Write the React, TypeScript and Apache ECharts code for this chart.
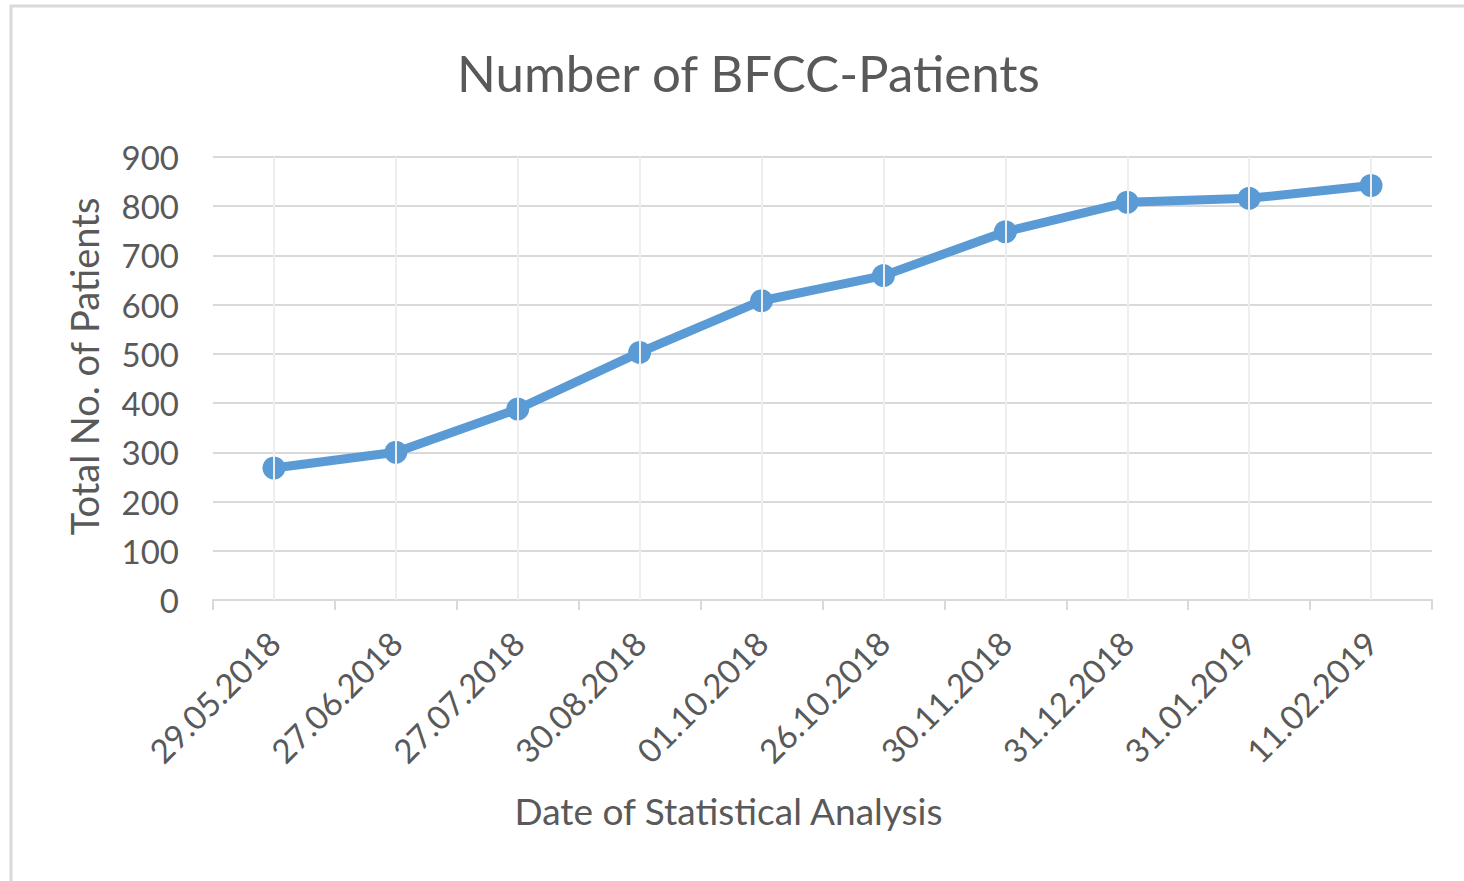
import React, { useEffect, useRef } from "react";
import * as echarts from "echarts";

const categories = [
  "29.05.2018",
  "27.06.2018",
  "27.07.2018",
  "30.08.2018",
  "01.10.2018",
  "26.10.2018",
  "30.11.2018",
  "31.12.2018",
  "31.01.2019",
  "11.02.2019",
];
const patients = [268, 300, 388, 503, 608, 659, 748, 808, 816, 842];
const yMin = 0;
const yMax = 900;
const yStep = 100;

const FONT = "Lato";
const TEXT = "#595959";

export default function App() {
  const ref = useRef<HTMLDivElement>(null);
  useEffect(() => {
    document.body.style.margin = "0";
    if (!ref.current) return;
    const chart = echarts.init(ref.current, undefined, { renderer: "svg" });
    chart.setOption({
      animation: false,
      backgroundColor: "#ffffff",
      textStyle: { fontFamily: FONT },
      title: {
        text: "Number of BFCC-Patients",
        left: 452,
        top: 42,
        textStyle: { fontFamily: FONT, fontSize: 51, fontWeight: "normal", color: TEXT },
      },
      graphic: [
        {
          type: "rect",
          shape: { x: 11, y: 6, width: 1600, height: 1000 },
          style: { fill: "none", stroke: "#d9d9d9", lineWidth: 3 },
          silent: true,
        },
      ],
      grid: { left: 213, right: 32, top: 157, bottom: 281, containLabel: false },
      xAxis: {
        type: "category",
        data: categories,
        boundaryGap: true,
        name: "Date of Statistical Analysis",
        nameLocation: "middle",
        nameGap: 192,
        nameTextStyle: { fontFamily: FONT, fontSize: 37, color: TEXT, padding: [0, 188, 0, 0] },
        axisLine: { show: true, lineStyle: { color: "#d9d9d9", width: 2 } },
        axisTick: { show: true, length: 10, lineStyle: { color: "#d9d9d9", width: 2 } },
        axisLabel: {
          rotate: 45,
          margin: 37,
          fontFamily: FONT,
          fontSize: 33,
          color: TEXT,
          interval: 0,
        },
        splitLine: { show: false },
      },
      yAxis: {
        type: "value",
        min: yMin,
        max: yMax,
        interval: yStep,
        name: "Total No. of Patients",
        nameLocation: "middle",
        nameGap: 110,
        nameTextStyle: { fontFamily: FONT, fontSize: 38, color: TEXT, padding: [0, 0, 0, 24] },
        axisLine: { show: false },
        axisTick: { show: false },
        axisLabel: { fontFamily: FONT, fontSize: 33, color: TEXT, margin: 34 },
        splitLine: { show: true, lineStyle: { color: "#d9d9d9", width: 2 } },
      },
      series: [
        {
          type: "line",
          data: [],
          z: 1,
          silent: true,
          markLine: {
            silent: true,
            symbol: "none",
            label: { show: false },
            lineStyle: { color: "#eeeeee", width: 2, type: "solid" },
            data: categories.map((c) => ({ xAxis: c })),
          },
        },
        {
          type: "line",
          data: patients,
          z: 3,
          symbol: "circle",
          symbolSize: 23,
          lineStyle: { color: "#5b9bd5", width: 9 },
          itemStyle: { color: "#5b9bd5" },
        },
      ],
    });
    return () => chart.dispose();
  }, []);
  return <div ref={ref} style={{ width: 1464, height: 881 }} />;
}
